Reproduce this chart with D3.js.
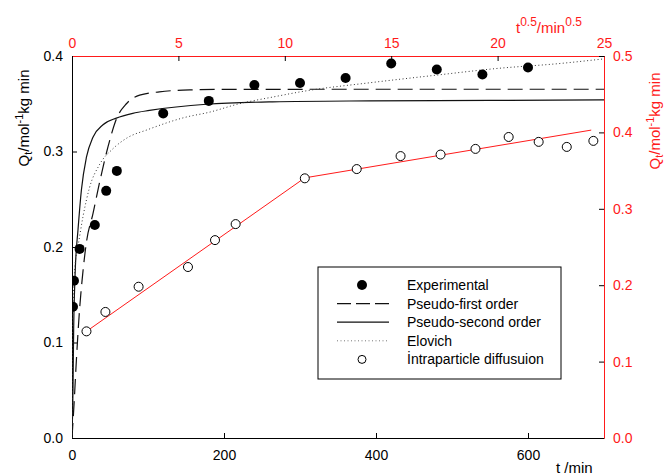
<!DOCTYPE html>
<html>
<head>
<meta charset="utf-8">
<script src="https://cdn.jsdelivr.net/npm/d3@7"></script>
<style>
  body { margin: 0; background: #fff; }
  svg { font-family: Arial, "Liberation Sans", sans-serif; }
</style>
</head>
<body>
<div id="chart"></div>
<script>
// experimental points: t (min), Qt
const expTime = [1.3, 2.6, 10, 30, 45, 59, 120, 180, 240, 300, 360, 420, 480, 540, 600];
const expQ = [0.1375, 0.1647, 0.198, 0.223, 0.2588, 0.2797, 0.3399, 0.353, 0.3697, 0.3718, 0.377, 0.3922, 0.3859, 0.3807, 0.388];

// model curves: [t, Qt]
const pseudoFirst = [[0, 0], [3, 0.04], [5.8, 0.082], [10, 0.135], [14.5, 0.175], [19, 0.205], [27.6, 0.235], [36.4, 0.268], [47.4, 0.305],
    [58.4, 0.334], [71.6, 0.35], [89, 0.359], [115, 0.3625], [155, 0.3645], [200, 0.365], [400, 0.3652], [700, 0.3652]];
const pseudoSecond = [[0, 0], [1.3, 0.05], [2.2, 0.115], [3.2, 0.15], [4.5, 0.18], [7.9, 0.218], [12.4, 0.26], [19, 0.294], [27.6, 0.315],
    [40.8, 0.328], [58.4, 0.335], [80, 0.34], [102, 0.343], [177, 0.3495], [264, 0.352], [392, 0.353], [550, 0.3535], [700, 0.354]];
const elovich = [[0, 0], [0.5, 0.09], [1.5, 0.14], [3, 0.17], [5, 0.188], [7.9, 0.201], [14.5, 0.232], [23, 0.262], [36, 0.286], [54, 0.303],
    [72, 0.314], [100, 0.323], [150, 0.336], [180, 0.341], [220, 0.35], [264, 0.357], [308, 0.3635], [392, 0.372], [480, 0.38],
    [560, 0.387], [640, 0.392], [700, 0.397]];

// intraparticle diffusion: t^0.5, Qt (right axis)
const sqrtTime = [0.68, 1.57, 3.13, 5.45, 6.72, 7.69, 10.94, 13.38, 15.44, 17.32, 18.96, 20.52, 21.93, 23.25, 24.5];
const ipdQ = [0.1396, 0.165, 0.198, 0.2238, 0.259, 0.28, 0.3399, 0.352, 0.369, 0.371, 0.3784, 0.394, 0.3876, 0.381, 0.3889];
const ipdFit = [[0.68, 0.1396], [10.94, 0.3405], [24.4, 0.403]];

const legendItems = ["Experimental", "Pseudo-first order", "Pseudo-second order", "Elovich", "İntraparticle diffusuion"];

const
    width = 667,
    height = 476,
    margin = { top: 56, right: 63, bottom: 38, left: 72 },
    red = "#ff1a1a",
    svg = d3.select("#chart").append("svg").attr("width", width).attr("height", height);

const x = d3.scaleLinear().domain([0, 700]).range([margin.left, width - margin.right]);
const y = d3.scaleLinear().domain([0, 0.4]).range([height - margin.bottom, margin.top]);
const x2 = d3.scaleLinear().domain([0, 25]).range([margin.left, width - margin.right]);
const y2 = d3.scaleLinear().domain([0, 0.5]).range([height - margin.bottom, margin.top]);

svg.append("clipPath").attr("id", "plot-clip")
    .append("rect")
    .attr("x", margin.left).attr("y", margin.top)
    .attr("width", width - margin.left - margin.right)
    .attr("height", height - margin.top - margin.bottom);

function styleAxis(g, domainColor, textColor) {
    g.select(".domain").attr("stroke", domainColor);
    g.selectAll(".tick line").attr("stroke", "#000");
    g.selectAll(".tick text").attr("fill", textColor).style("font-size", "14px");
    g.attr("font-family", null);
}

svg.append("g")
    .attr("transform", `translate(0,${height - margin.bottom})`)
    .call(d3.axisBottom(x).tickValues([0, 200, 400, 600]).tickSize(-5).tickSizeOuter(0).tickPadding(12))
    .call(g => styleAxis(g, "#000", "#000"));

svg.append("g")
    .attr("transform", `translate(${margin.left},0)`)
    .call(d3.axisLeft(y).tickValues([0, 0.1, 0.2, 0.3, 0.4]).tickFormat(d3.format(".1f")).tickSize(-5).tickSizeOuter(0).tickPadding(9))
    .call(g => styleAxis(g, "#000", "#000"));

svg.append("g")
    .attr("transform", `translate(0,${margin.top})`)
    .call(d3.axisTop(x2).tickValues([0, 5, 10, 15, 20, 25]).tickSize(-5).tickSizeOuter(0).tickPadding(8))
    .call(g => styleAxis(g, red, red));

svg.append("g")
    .attr("transform", `translate(${width - margin.right},0)`)
    .call(d3.axisRight(y2).tickValues([0, 0.1, 0.2, 0.3, 0.4, 0.5]).tickFormat(d3.format(".1f")).tickSize(-5).tickSizeOuter(0).tickPadding(9))
    .call(g => styleAxis(g, red, red));

// axis titles
function qLabel(sel) {
    sel.append("tspan").text("Q");
    sel.append("tspan").attr("dy", 3).style("font-size", "11px").text("t");
    sel.append("tspan").attr("dy", -3).text("/mol");
    sel.append("tspan").attr("dy", -6).style("font-size", "11px").text("-1");
    sel.append("tspan").attr("dy", 6).text("kg min");
}

svg.append("text")
    .attr("transform", "translate(29,118) rotate(-90)")
    .attr("text-anchor", "middle")
    .style("font-size", "15px")
    .attr("fill", "#000")
    .call(qLabel);

svg.append("text")
    .attr("transform", "translate(660,121) rotate(-90)")
    .attr("text-anchor", "middle")
    .style("font-size", "15px")
    .attr("fill", red)
    .call(qLabel);

const topTitle = svg.append("text")
    .attr("x", 516).attr("y", 33)
    .style("font-size", "15px")
    .attr("fill", red);
topTitle.append("tspan").text("t");
topTitle.append("tspan").attr("dy", -7).style("font-size", "12px").text("0.5");
topTitle.append("tspan").attr("dy", 7).text("/min");
topTitle.append("tspan").attr("dy", -7).style("font-size", "12px").text("0.5");

svg.append("text")
    .attr("x", 556).attr("y", 473)
    .style("font-size", "15px")
    .attr("fill", "#000")
    .text("t /min");

// curves
const line = d3.line()
    .x(d => x(d[0]))
    .y(d => y(d[1]))
    .curve(d3.curveMonotoneX);

const plot = svg.append("g").attr("clip-path", "url(#plot-clip)");

plot.append("path")
    .datum(pseudoFirst)
    .attr("fill", "none")
    .attr("stroke", "#111")
    .attr("stroke-width", 1.2)
    .attr("stroke-dasharray", "15 7")
    .attr("d", line);

plot.append("path")
    .datum(pseudoSecond)
    .attr("fill", "none")
    .attr("stroke", "#111")
    .attr("stroke-width", 1.2)
    .attr("d", line);

plot.append("path")
    .datum(elovich)
    .attr("fill", "none")
    .attr("stroke", "#333")
    .attr("stroke-width", 1)
    .attr("stroke-dasharray", "1 2.5")
    .attr("d", line);

plot.append("path")
    .datum(ipdFit)
    .attr("fill", "none")
    .attr("stroke", red)
    .attr("stroke-width", 1)
    .attr("d", d3.line().x(d => x2(d[0])).y(d => y2(d[1])));

plot.selectAll(".ipd-dot")
    .data(sqrtTime)
    .enter().append("circle")
    .attr("class", "ipd-dot")
    .attr("cx", d => x2(d))
    .attr("cy", (d, i) => y2(ipdQ[i]))
    .attr("r", 4.5)
    .attr("fill", "#fff")
    .attr("stroke", "#000")
    .attr("stroke-width", 1);

plot.selectAll(".exp-dot")
    .data(expTime)
    .enter().append("circle")
    .attr("class", "exp-dot")
    .attr("cx", d => x(d))
    .attr("cy", (d, i) => y(expQ[i]))
    .attr("r", 5)
    .attr("fill", "#000");

// legend
const legend = svg.append("g").attr("transform", "translate(318,267)");
legend.append("rect")
    .attr("width", 243).attr("height", 112)
    .attr("fill", "#fff")
    .attr("stroke", "#000")
    .attr("stroke-width", 1);

const rowY = i => 18 + i * 18.6;

legend.append("circle").attr("cx", 44).attr("cy", rowY(0)).attr("r", 5).attr("fill", "#000");
legend.append("line").attr("x1", 19).attr("x2", 71).attr("y1", rowY(1)).attr("y2", rowY(1))
    .attr("stroke", "#111").attr("stroke-width", 1.2).attr("stroke-dasharray", "14 5");
legend.append("line").attr("x1", 19).attr("x2", 71).attr("y1", rowY(2)).attr("y2", rowY(2))
    .attr("stroke", "#111").attr("stroke-width", 1.2);
legend.append("line").attr("x1", 19).attr("x2", 71).attr("y1", rowY(3)).attr("y2", rowY(3))
    .attr("stroke", "#777").attr("stroke-width", 1).attr("stroke-dasharray", "1 2.5");
legend.append("circle").attr("cx", 44).attr("cy", rowY(4)).attr("r", 4).attr("fill", "#fff")
    .attr("stroke", "#000").attr("stroke-width", 1);

legend.selectAll(".legend-label")
    .data(legendItems)
    .enter().append("text")
    .attr("class", "legend-label")
    .attr("x", 89)
    .attr("y", (d, i) => rowY(i))
    .attr("dy", "0.35em")
    .style("font-size", "14px")
    .attr("fill", "#000")
    .text(d => d);
</script>
</body>
</html>
